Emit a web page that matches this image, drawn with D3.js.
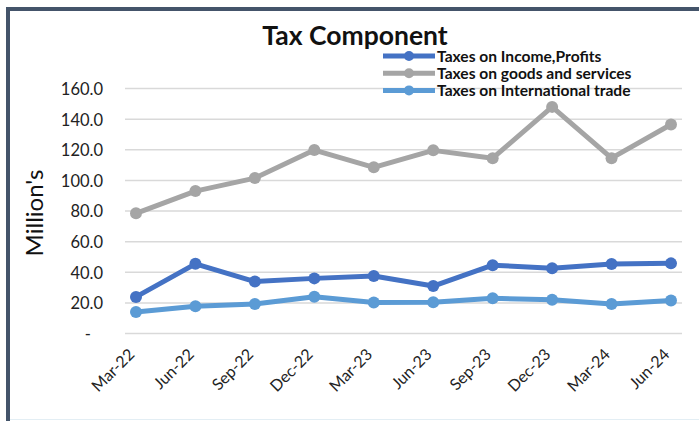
<!DOCTYPE html>
<html>
<head>
<meta charset="utf-8">
<script src="https://cdn.jsdelivr.net/npm/d3@7"></script>
<style>
  html, body { margin: 0; padding: 0; background: #fff; }
  svg { display: block; }
</style>
</head>
<body>
<div id="chart"></div>
<script>
// Quarterly tax collections, in millions
const quarters = ["Mar-22","Jun-22","Sep-22","Dec-22","Mar-23","Jun-23","Sep-23","Dec-23","Mar-24","Jun-24"];
const incomeProfits = [23.9, 45.5, 33.9, 36.0, 37.6, 31.0, 44.6, 42.6, 45.4, 45.8];
const goodsServices = [78.5, 93.0, 101.5, 119.8, 108.5, 119.6, 114.5, 148.0, 114.5, 136.5];
const internationalTrade = [14.0, 17.8, 19.2, 24.0, 20.2, 20.4, 23.0, 22.0, 19.2, 21.6];
const seriesNames = ["Taxes on Income,Profits", "Taxes on goods and services", "Taxes on International trade"];
const yTicks = [0, 20, 40, 60, 80, 100, 120, 140, 160];

const W = 699, H = 421;
const colors = ["#4472C4", "#A5A5A5", "#5B9BD5"];
const series = [incomeProfits, goodsServices, internationalTrade].map((values, i) => ({
  name: seriesNames[i], values, color: colors[i]
}));

const svg = d3.select("#chart").append("svg").attr("width", W).attr("height", H);

// frame
svg.append("rect").attr("x", 0).attr("y", 0).attr("width", W).attr("height", H).attr("fill", "#fff");
svg.append("rect").attr("x", 6).attr("y", 7).attr("width", W - 6).attr("height", 4).attr("fill", "#44546A");
svg.append("rect").attr("x", 6).attr("y", 7).attr("width", 4).attr("height", H - 7).attr("fill", "#44546A");
svg.append("line").attr("x1", 10).attr("x2", W).attr("y1", 419.5).attr("y2", 419.5)
  .attr("stroke", "#e3eef4").attr("stroke-width", 1);

const gridLeft = 125, gridRight = 682;
const x = d3.scalePoint().domain(quarters).range([136, 671]);
const y = d3.scaleLinear().domain([0, 160]).range([333.5, 88.5]);

// gridlines
svg.append("g").selectAll("line").data(yTicks).join("line")
  .attr("x1", gridLeft).attr("x2", gridRight)
  .attr("y1", d => y(d)).attr("y2", d => y(d))
  .attr("stroke", "#d9d9d9").attr("stroke-width", 1.5);

// y axis labels
const yAxis = d3.axisLeft(y).tickValues(yTicks).tickSize(0).tickPadding(0)
  .tickFormat(d => d === 0 ? "-" : d3.format(".1f")(d));
const gy = svg.append("g").attr("transform", "translate(103,0)").call(yAxis);
gy.select(".domain").remove();
gy.selectAll("text").attr("font-family", "Lato, sans-serif").attr("font-size", 16.5)
  .attr("fill", "#222").attr("dy", "0.36em");
gy.selectAll(".tick").filter(d => d === 0).select("text").attr("dx", "-12");

// y title
svg.append("text").attr("transform", "translate(43,213) rotate(-90)")
  .attr("text-anchor", "middle").attr("font-family", "Lato, sans-serif")
  .attr("font-size", 24).attr("fill", "#111").text("Million's");

// x axis labels
const xAxis = d3.axisBottom(x).tickSize(0).tickPadding(0);
const gx = svg.append("g").attr("transform", "translate(0,333.5)").call(xAxis);
gx.select(".domain").remove();
gx.selectAll("text")
  .attr("font-family", "Lato, sans-serif").attr("font-size", 16).attr("fill", "#222")
  .attr("text-anchor", "end").attr("dy", null).attr("y", 0)
  .attr("transform", "translate(-1,22) rotate(-45)");

// lines and markers
const line = d3.line().x((d, i) => x(quarters[i])).y(d => y(d));
const g = svg.append("g");
series.forEach(s => {
  g.append("path").datum(s.values).attr("d", line)
    .attr("fill", "none").attr("stroke", s.color).attr("stroke-width", 5)
    .attr("stroke-linejoin", "round");
  g.selectAll(null).data(s.values).join("circle")
    .attr("cx", (d, i) => x(quarters[i])).attr("cy", d => y(d)).attr("r", 6)
    .attr("fill", s.color);
});

// title
svg.append("text").attr("x", 355).attr("y", 45).attr("text-anchor", "middle")
  .attr("font-family", "Lato, sans-serif").attr("font-weight", "bold").attr("font-size", 26.5)
  .attr("fill", "#111").text("Tax Component");

// legend
const legend = svg.append("g");
series.forEach((s, i) => {
  const ly = 56 + i * 17.2;
  legend.append("line").attr("x1", 383).attr("x2", 435).attr("y1", ly).attr("y2", ly)
    .attr("stroke", s.color).attr("stroke-width", 5);
  legend.append("circle").attr("cx", 409).attr("cy", ly).attr("r", 5).attr("fill", s.color);
  legend.append("text").attr("x", 437).attr("y", ly).attr("dy", "0.36em")
    .attr("font-family", "Lato, sans-serif").attr("font-weight", "bold").attr("font-size", 15.6)
    .attr("fill", "#111").text(s.name);
});
</script>
</body>
</html>
